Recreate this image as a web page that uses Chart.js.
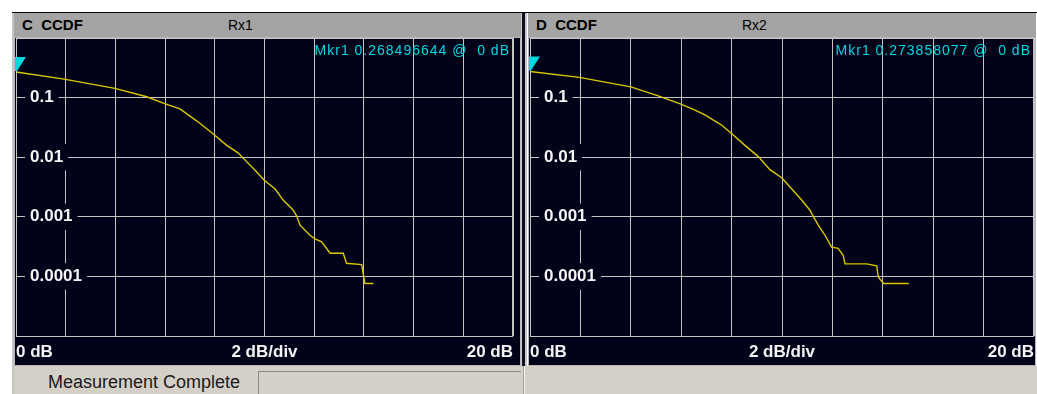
<!DOCTYPE html>
<html>
<head>
<meta charset="utf-8">
<script src="https://cdn.jsdelivr.net/npm/chart.js@4/dist/chart.umd.min.js"></script>
<style>
  body { margin: 0; width: 1037px; height: 394px; background: #fff; position: relative; overflow: hidden;
         font-family: "Liberation Sans", Arial, sans-serif; }
  .abs { position: absolute; }
  #topline { left: 12px; top: 12px; width: 1025px; height: 1px; background: #000; }
  #leftedge { left: 12px; top: 13px; width: 2px; height: 381px; background: #c4c4c4; }
  .header { top: 13px; height: 24px; background: #a4a4a4; color: #000; }
  .header .id { position: absolute; left: 8px; top: 3px; font-weight: bold; font-size: 15px; white-space: pre; }
  .header .rx { position: absolute; top: 4px; font-size: 14px; }
  .mkr { top: 42px; color: #00d8e0; font-size: 14px; letter-spacing: 1px; white-space: pre; text-align: right; }
  #divider { left: 521px; top: 13px; width: 3px; height: 355px; background: #0c0c22; border-left: 1px solid #c8c8c8; border-right: 2px solid #c8c8c8; }
  canvas { position: absolute; }
  #status { left: 14px; top: 366px; width: 1023px; height: 28px; background: #d4d0c8; }
  #statusText { left: 48px; top: 372px; font-size: 18px; color: #1a1a1a; }
  #statusBox { left: 258px; top: 371px; width: 262px; height: 24px; border-top: 1px solid #8a8a8a; border-left: 1px solid #8a8a8a; }
  #statusSplit { left: 523px; top: 366px; width: 1px; height: 28px; background: #f4f4f4; border-left: 1px solid #a0a0a0; }
</style>
</head>
<body>
<div class="abs" id="topline"></div>
<div class="abs" id="leftedge"></div>

<div class="abs header" style="left:14px;width:507px">
  <span class="id">C  CCDF</span><span class="rx" style="left:214px">Rx1</span>
</div>
<div class="abs header" style="left:528px;width:508px">
  <span class="id">D  CCDF</span><span class="rx" style="left:214px">Rx2</span>
</div>
<div class="abs" id="divider"></div>

<canvas id="rx1Chart" width="507" height="329" style="left:14px;top:37px"></canvas>
<canvas id="rx2Chart" width="508" height="329" style="left:528px;top:37px"></canvas>

<div class="abs mkr" id="mkr1" style="right:527px"></div>
<div class="abs mkr" id="mkr2" style="right:6px"></div>

<div class="abs" id="status"></div>
<div class="abs" id="statusText">Measurement Complete</div>
<div class="abs" id="statusBox"></div>
<div class="abs" id="statusSplit"></div>

<script>
// ==== Data ====
const xTicks = [0, 2, 4, 6, 8, 10, 12, 14, 16, 18, 20];
const xLabels = { 0: "0 dB", 10: "2 dB/div", 20: "20 dB" };
const yTicks = [0.0001, 0.001, 0.01, 0.1];
const yLabels = ["0.0001", "0.001", "0.01", "0.1"];

const rx1Db = [0, 1.94, 3.98, 5.26, 5.98, 6.6, 7.0, 7.4, 8.0, 8.48, 8.95, 9.15, 9.62, 10.0,
  10.42, 10.75, 11.16, 11.3, 11.43, 11.83, 12.03, 12.3, 12.64, 13.17, 13.3, 13.91, 14.04, 14.38];
const rx1Ccdf = [0.268496644, 0.2046, 0.1429, 0.1033, 0.0794, 0.0646, 0.049, 0.0372, 0.0234, 0.0158,
  0.0117, 0.00955, 0.00603, 0.00407, 0.00295, 0.00191, 0.00129, 0.00102, 0.000724, 0.00049,
  0.000427, 0.00038, 0.000245, 0.000245, 0.000166, 0.000158, 0.0000759, 0.0000759];

const rx2Db = [0, 1.96, 4.0, 5.09, 5.99, 6.55, 6.94, 7.41, 7.6, 8.02, 8.53, 9.06, 9.52, 10.0,
  10.38, 10.78, 11.11, 11.24, 11.44, 11.71, 11.97, 12.23, 12.43, 12.5, 13.36, 13.76, 13.82, 14.03, 15.03];
const rx2Ccdf = [0.273858077, 0.2188, 0.1514, 0.1072, 0.0776, 0.0617, 0.0513, 0.0389, 0.0347, 0.0245,
  0.0158, 0.01023, 0.00617, 0.00447, 0.00295, 0.00191, 0.00129, 0.00102, 0.000724, 0.00049,
  0.000309, 0.000295, 0.000224, 0.000162, 0.000162, 0.000151, 0.0000977, 0.0000759, 0.0000759];

const mkr1 = { db: 0, value: 0.268496644 };
const mkr2 = { db: 0, value: 0.273858077 };

// ==== Styles ====
const NAVY = "#020219";
const GRID = "#c4c4c4";
const TRACE = "#dcc800";
const MARKER = "#00d8e0";

// background, borders and marker triangle
const framePlugin = {
  id: "frame",
  beforeDraw(chart) {
    const ctx = chart.ctx;
    ctx.save();
    ctx.fillStyle = NAVY;
    ctx.fillRect(0, 0, chart.width, chart.height);
    ctx.restore();
  },
  afterDraw(chart) {
    const { ctx, chartArea: a } = chart;
    ctx.save();
    ctx.strokeStyle = GRID;
    ctx.lineWidth = 1;
    ctx.strokeRect(a.left + 0.5, a.top + 0.5, a.right - a.left - 1, a.bottom - a.top);
    ctx.strokeStyle = "#b8b8b8";
    ctx.strokeRect(0.5, 0.5, chart.width - 1, chart.height - 1);
    // marker
    const m = chart.options.plugins.frame.marker;
    const px = chart.scales.x.getPixelForValue(m.db);
    const py = chart.scales.y.getPixelForValue(m.value);
    ctx.fillStyle = MARKER;
    ctx.beginPath();
    ctx.moveTo(px - 1, py - 15);
    ctx.lineTo(px + 10, py - 15);
    ctx.lineTo(px + 1, py - 1);
    ctx.lineTo(px - 1, py - 1);
    ctx.closePath();
    ctx.fill();
    ctx.restore();
  }
};

function makePanel(id, db, ccdf, marker, padRight) {
  const points = db.map((x, i) => ({ x: x, y: ccdf[i] }));
  return new Chart(document.getElementById(id), {
    type: "line",
    data: {
      datasets: [{
        data: points,
        borderColor: TRACE,
        borderWidth: 1.4,
        pointRadius: 0,
        tension: 0,
        fill: false
      }]
    },
    options: {
      responsive: false,
      animation: false,
      devicePixelRatio: 1,
      layout: { padding: { left: 2, right: padRight, top: 1, bottom: 0 } },
      plugins: {
        legend: { display: false },
        tooltip: { enabled: false },
        frame: { marker: marker }
      },
      scales: {
        x: {
          type: "linear",
          min: 0,
          max: 20,
          afterBuildTicks: s => { s.ticks = xTicks.map(v => ({ value: v })); },
          afterFit: s => { s.height = 30; s.paddingLeft = 0; s.paddingRight = 0; },
          grid: { color: GRID, drawTicks: false },
          border: { display: false },
          ticks: {
            autoSkip: false,
            maxRotation: 0,
            align: "inner",
            padding: 6,
            color: "#f4f4f4",
            font: { family: "'Liberation Sans', Arial, sans-serif", size: 17, weight: "bold" },
            callback: v => xLabels[v] || ""
          }
        },
        y: {
          type: "logarithmic",
          min: 0.00001,
          max: 1,
          afterBuildTicks: s => { s.ticks = yTicks.map(v => ({ value: v })); },
          afterFit: s => { s.width = 0; s.paddingTop = 0; s.paddingBottom = 0; },
          grid: { color: GRID, drawTicks: false },
          border: { display: false },
          ticks: {
            mirror: true,
            padding: 14,
            z: 1,
            showLabelBackdrop: true,
            backdropColor: NAVY,
            backdropPadding: { top: 3, bottom: 3, left: 5, right: 5 },
            color: "#f4f4f4",
            font: { family: "'Liberation Sans', Arial, sans-serif", size: 17, weight: "bold" },
            callback: (v) => {
              const i = yTicks.indexOf(v);
              return i >= 0 ? yLabels[i] : "";
            }
          }
        }
      }
    },
    plugins: [framePlugin]
  });
}

makePanel("rx1Chart", rx1Db, rx1Ccdf, mkr1, 8);
makePanel("rx2Chart", rx2Db, rx2Ccdf, mkr2, 2);

document.getElementById("mkr1").textContent = "Mkr1 " + mkr1.value.toFixed(9) + " @  " + mkr1.db + " dB";
document.getElementById("mkr2").textContent = "Mkr1 " + mkr2.value.toFixed(9) + " @  " + mkr2.db + " dB";
</script>
</body>
</html>
